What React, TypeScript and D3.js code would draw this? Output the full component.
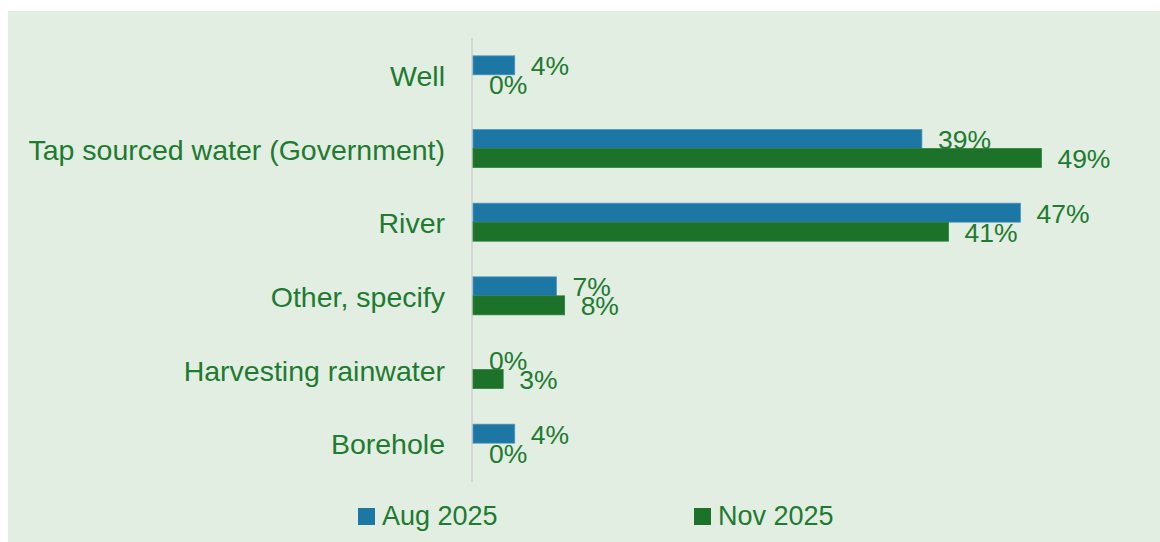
import React from "react";
import * as d3 from "d3";

const categories = ["Well", "Tap sourced water (Government)", "River", "Other, specify", "Harvesting rainwater", "Borehole"];
const seriesNames = ["Aug 2025", "Nov 2025"];
const aug2025 = [3.6, 38.7, 47.2, 7.2, 0, 3.6];
const nov2025 = [0, 49.0, 41.0, 7.9, 2.6, 0];
const seriesColors = ["#1D77A5", "#1C7229"];

const W = 1160;
const H = 542;
const TEXT = "#217A31";
const FONT = "'Liberation Sans', Arial, sans-serif";

export default function App() {
  const series = [aug2025, nov2025];
  const x = d3.scaleLinear().domain([0, 50]).range([473, 473 + 580]);
  const y = d3
    .scaleBand<string>()
    .domain(categories)
    .range([38, 480])
    .paddingInner(0.484)
    .paddingOuter(0.242);
  const sub = d3.scaleBand<string>().domain(seriesNames).range([0, y.bandwidth()]);

  const legendItems = [
    { name: seriesNames[0], color: seriesColors[0], x: 358 },
    { name: seriesNames[1], color: seriesColors[1], x: 694 },
  ];

  return (
    <svg
      width={W}
      height={H}
      style={{ position: "absolute", left: 0, top: 0, display: "block" }}
      fontFamily={FONT}
    >
      <rect x={8} y={11} width={W - 8} height={H - 11} fill="#E2EEE1" />
      <line x1={472} x2={472} y1={38} y2={482} stroke="#D4D6D4" strokeWidth={2} />
      {categories.map((c) => (
        <text
          key={c}
          x={445}
          y={(y(c) as number) + y.bandwidth() / 2 + 1}
          textAnchor="end"
          dominantBaseline="central"
          fontSize={28.5}
          fill={TEXT}
        >
          {c}
        </text>
      ))}
      {series.map((vals, si) =>
        categories.map((c, ci) => {
          const v = vals[ci];
          const y0 = (y(c) as number) + (sub(seriesNames[si]) as number);
          const w = x(v) - x(0);
          return (
            <g key={`${si}-${c}`}>
              {w > 0 && (
                <rect
                  x={x(0)}
                  y={y0}
                  width={w}
                  height={sub.bandwidth()}
                  fill={seriesColors[si]}
                  stroke={si === 0 ? "#4F97C2" : "#2B7F36"}
                  strokeWidth={0.75}
                />
              )}
              <text
                x={x(v) + 16}
                y={y0 + sub.bandwidth() / 2 + 1}
                dominantBaseline="central"
                fontSize={26.5}
                fill={TEXT}
              >
                {`${Math.round(v)}%`}
              </text>
            </g>
          );
        })
      )}
      {legendItems.map((l) => (
        <g key={l.name}>
          <rect x={l.x} y={508} width={17} height={17} fill={l.color} />
          <text x={l.x + 24} y={525} fontSize={27} fill={TEXT}>
            {l.name}
          </text>
        </g>
      ))}
    </svg>
  );
}
